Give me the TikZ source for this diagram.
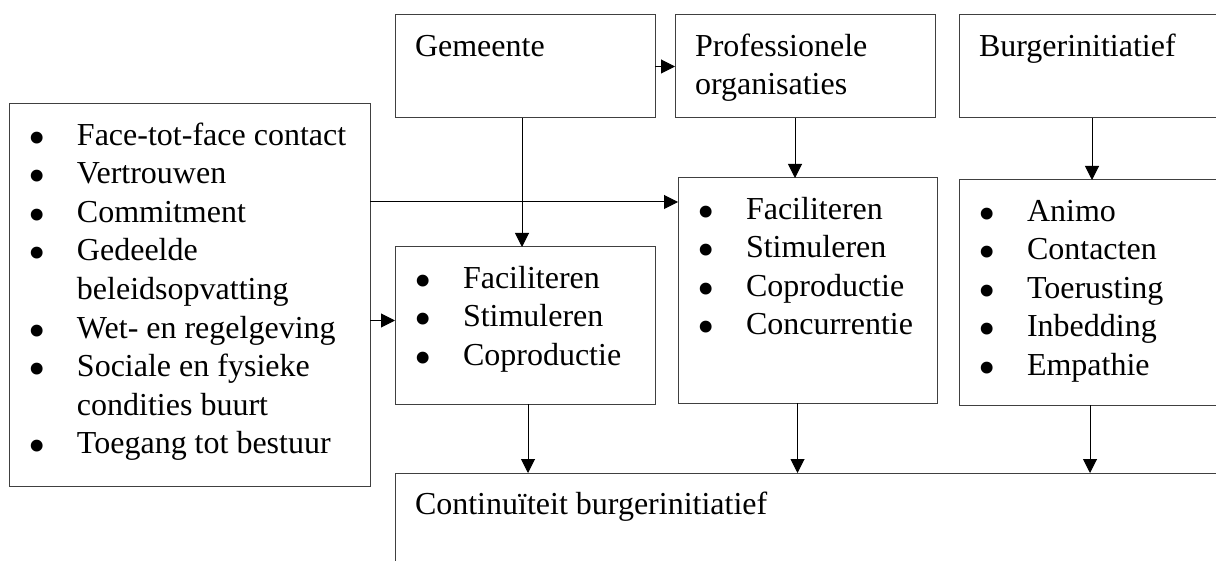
\documentclass[tikz,border=0pt]{standalone}
\usepackage{fontspec}
\usepackage{graphicx}
\setmainfont{Liberation Serif}
\usetikzlibrary{arrows.meta}
\newcommand{\px}{0.5pt}
% box content: width and height in px, text starts at the top
\newcommand{\vak}[3]{\parbox[t][\dimexpr(#2pt-28pt)/2\relax][t]{\dimexpr(#1pt-40pt)/2\relax}{\strut#3}}
\newcommand{\bul}[1]{\mbox{\makebox[24pt][l]{\hspace{-0.5pt}\raisebox{-4.5pt}[0pt][0pt]{\scalebox{1.55}{\textbullet}}}#1}}

\begin{document}
\begin{tikzpicture}[box/.style={draw=black!75, line width=0.5pt, anchor=north west, inner xsep=10pt, inner ysep=7pt, outer sep=0pt, font=\fontsize{16}{19.3}\selectfont},
    arr/.style={-{Triangle[length=7pt,width=7pt]}, line width=0.5pt}]
    \clip (0,0) rectangle (1216*\px,-561*\px);
    % Top row
    \node[box] (gem) at (395*\px,-15*\px) {\vak{260}{103}{Gemeente}};
    \node[box] (prof) at (675*\px,-15*\px) {\vak{260}{103}{Professionele\\organisaties}};
    \node[box] (burg) at (959*\px,-15*\px) {\vak{266}{103}{Burgerinitiatief}};

    % Factors
    \node[box] (factors) at (9*\px,-104*\px) {\vak{361}{382}{\bul{Face-tot-face contact}\\
        \bul{Vertrouwen}\\
        \bul{Commitment}\\
        \bul{Gedeelde}\\
        \hspace*{24pt}beleidsopvatting\\
        \bul{Wet- en regelgeving}\\
        \bul{Sociale en fysieke}\\
        \hspace*{24pt}condities buurt\\
        \bul{Toegang tot bestuur}}};

    % Roles
    \node[box] (gemact) at (395*\px,-247*\px) {\vak{260}{157}{\bul{Faciliteren}\\
        \bul{Stimuleren}\\
        \bul{Coproductie}}};
    \node[box] (profact) at (678*\px,-178*\px) {\vak{259}{225}{\bul{Faciliteren}\\
        \bul{Stimuleren}\\
        \bul{Coproductie}\\
        \bul{Concurrentie}}};
    \node[box] (burgact) at (959*\px,-180*\px) {\vak{266}{225}{\bul{Animo}\\
        \bul{Contacten}\\
        \bul{Toerusting}\\
        \bul{Inbedding}\\
        \bul{Empathie}}};

    % Result
    \node[box] (cont) at (395*\px,-473*\px) {\vak{830}{97}{Continuïteit burgerinitiatief}};

    % Connectors
    \coordinate (f1) at ([yshift=-98*\px]factors.north east);
    \coordinate (f2) at ([yshift=5*\px]gemact.west);
    \draw[arr] (gem.east) -- (prof.west);
    \draw[arr] ([xshift=-3*\px]gem.south) -- ([xshift=-3*\px]gemact.north);
    \draw[arr] ([xshift=-10*\px]prof.south) -- ([xshift=-10*\px]prof.south |- profact.north);
    \draw[arr] (burg.south) -- (burgact.north);
    \draw[arr] (f1) -- (f1 -| profact.west);
    \draw[arr] (f2 -| factors.east) -- (f2);
    \draw[arr] ([xshift=3*\px]gemact.south) -- ([xshift=3*\px]gemact.south |- cont.north);
    \draw[arr] ([xshift=-10*\px]profact.south) -- ([xshift=-10*\px]profact.south |- cont.north);
    \draw[arr] ([xshift=-2*\px]burgact.south) -- ([xshift=-2*\px]burgact.south |- cont.north);
\end{tikzpicture}
\end{document}
